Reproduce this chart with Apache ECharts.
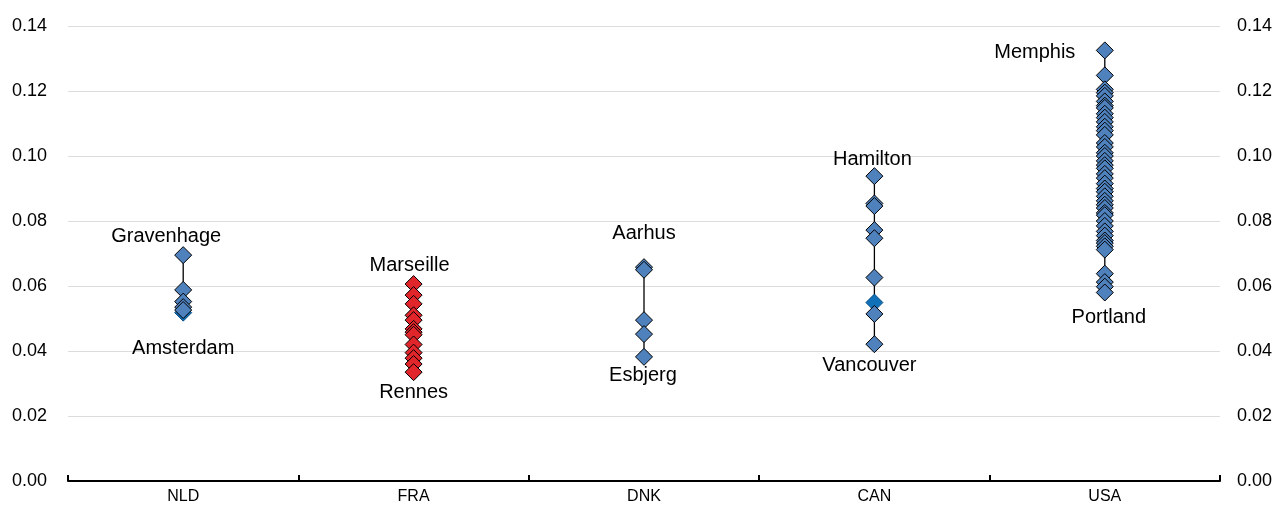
<!DOCTYPE html>
<html>
<head>
<meta charset="utf-8">
<title>City values by country</title>
<script src="https://cdn.jsdelivr.net/npm/echarts@6/dist/echarts.min.js"></script>
<style>
  html, body { margin: 0; padding: 0; background: #fff; }
  #chart { width: 1276px; height: 506px; }
</style>
</head>
<body>
<div id="chart"></div>
<script>
// Countries on the horizontal axis
const countries = ['NLD', 'FRA', 'DNK', 'CAN', 'USA'];

// City values per country
const nldValues = [0.0695, 0.0588, 0.0552, 0.0535, 0.0526];
const fraValues = [0.0606, 0.0572, 0.0545, 0.0510, 0.0495, 0.0468, 0.0458, 0.0450, 0.0420, 0.0395, 0.0378, 0.0360, 0.0335];
const dnkValues = [0.0658, 0.0650, 0.0495, 0.0452, 0.0382];
const canValues = [0.0938, 0.0854, 0.0846, 0.0772, 0.0747, 0.0626, 0.0514, 0.0421];
const usaValues = [0.1325, 0.1248, 0.1205, 0.1195, 0.1185, 0.1168, 0.1155, 0.1148, 0.1130, 0.1118,
                   0.1105, 0.1090, 0.1078, 0.1065, 0.1040, 0.1028, 0.1010, 0.1000, 0.0985, 0.0972,
                   0.0962, 0.0945, 0.0932, 0.0915, 0.0900, 0.0890, 0.0876, 0.0862, 0.0850, 0.0840,
                   0.0825, 0.0818, 0.0800, 0.0785, 0.0768, 0.0755, 0.0740, 0.0732, 0.0722, 0.0712,
                   0.0638, 0.0612, 0.0598, 0.0580];

// Highlighted cities (drawn in a brighter blue)
const highlightCountries = ['NLD', 'CAN'];
const highlightValues = [0.0518, 0.0549];

// Named extreme cities
const labelCountries = ['NLD', 'NLD', 'FRA', 'FRA', 'DNK', 'DNK', 'CAN', 'CAN', 'USA', 'USA'];
const labelNames = ['Gravenhage', 'Amsterdam', 'Marseille', 'Rennes', 'Aarhus', 'Esbjerg', 'Hamilton', 'Vancouver', 'Memphis', 'Portland'];
const labelValues = [0.0695, 0.0518, 0.0606, 0.0335, 0.0658, 0.0382, 0.0938, 0.0421, 0.1325, 0.0580];

// Vertical axis ticks
const yMin = 0, yMax = 0.14, yStep = 0.02;

const valueSets = { NLD: nldValues, FRA: fraValues, DNK: dnkValues, CAN: canValues, USA: usaValues };
const highlightByCountry = {};
highlightCountries.forEach((c, i) => { (highlightByCountry[c] = highlightByCountry[c] || []).push(highlightValues[i]); });

// Min-max range per country, covering all of its cities
const rangeData = countries.map((c, i) => {
  const all = valueSets[c].concat(highlightByCountry[c] || []);
  return [i, Math.min.apply(null, all), Math.max.apply(null, all)];
});

const BLUE = '#4f81bd';
const RED = '#e0262b';
const BRIGHT = '#1070b8';

const pointsOf = (c) => valueSets[c].map(v => [c, v]);

// Label placement around each named city
const labelOffsets = [[-17, -19], [0, 36], [-4, -19], [0, 20], [0, -34], [-1, 19], [-2, -17], [-5, 21], [-70, 2], [4, 25]];

const chart = echarts.init(document.getElementById('chart'), null, { renderer: 'canvas' });

const diamondStyle = (color) => ({ color: color, borderColor: '#000', borderWidth: 1, opacity: 1 });

const cityScatter = (c, color) => ({
  type: 'scatter', name: c, z: 3, symbol: 'diamond', symbolSize: 17,
  itemStyle: diamondStyle(color), data: pointsOf(c)
});

chart.setOption({
  animation: false,
  backgroundColor: '#fff',
  textStyle: { fontFamily: 'Liberation Sans, Arial, sans-serif' },
  grid: { left: 68, right: 56, top: 26, bottom: 25, containLabel: false },
  xAxis: {
    type: 'category',
    data: countries,
    boundaryGap: true,
    axisLine: { show: true, lineStyle: { color: '#000', width: 2 } },
    axisTick: { show: true, inside: true, length: 6, lineStyle: { color: '#000', width: 2 } },
    axisLabel: { color: '#000', fontSize: 16, margin: 8 },
    splitLine: { show: false }
  },
  yAxis: [
    {
      type: 'value', min: yMin, max: yMax, interval: yStep, position: 'left',
      axisLine: { show: false }, axisTick: { show: false },
      axisLabel: { color: '#000', fontSize: 18, margin: 21, formatter: v => v.toFixed(2) },
      splitLine: { show: true, lineStyle: { color: '#dcdcdc', width: 1 } }
    },
    {
      type: 'value', min: yMin, max: yMax, interval: yStep, position: 'right',
      axisLine: { show: false }, axisTick: { show: false },
      axisLabel: { color: '#000', fontSize: 18, margin: 17, formatter: v => v.toFixed(2) },
      splitLine: { show: false }
    }
  ],
  series: [
    {
      type: 'custom',
      name: 'range',
      z: 1,
      data: rangeData,
      renderItem: function (params, api) {
        const a = api.coord([api.value(0), api.value(1)]);
        const b = api.coord([api.value(0), api.value(2)]);
        return {
          type: 'line',
          shape: { x1: a[0], y1: a[1], x2: b[0], y2: b[1] },
          style: { stroke: '#000', lineWidth: 1.3 }
        };
      }
    },
    cityScatter('NLD', BLUE),
    cityScatter('FRA', RED),
    cityScatter('DNK', BLUE),
    cityScatter('CAN', BLUE),
    cityScatter('USA', BLUE),
    {
      type: 'scatter', name: 'highlight', z: 2, symbol: 'diamond', symbolSize: 17,
      itemStyle: { color: BRIGHT, borderColor: '#0a4f86', borderWidth: 1, opacity: 1 },
      data: highlightCountries.map((c, i) => [c, highlightValues[i]])
    },
    {
      // City names next to the extreme points
      type: 'custom',
      name: 'labels',
      z: 4,
      silent: true,
      data: labelNames.map((n, i) => [countries.indexOf(labelCountries[i]), labelValues[i], i]),
      renderItem: function (params, api) {
        const idx = api.value(2);
        const p = api.coord([api.value(0), api.value(1)]);
        const off = labelOffsets[idx];
        return {
          type: 'text',
          x: p[0] + off[0],
          y: p[1] + off[1],
          style: {
            text: labelNames[idx],
            fill: '#000',
            font: '20px "Liberation Sans", Arial, sans-serif',
            align: 'center',
            verticalAlign: 'middle'
          }
        };
      }
    }
  ]
});
</script>
</body>
</html>
